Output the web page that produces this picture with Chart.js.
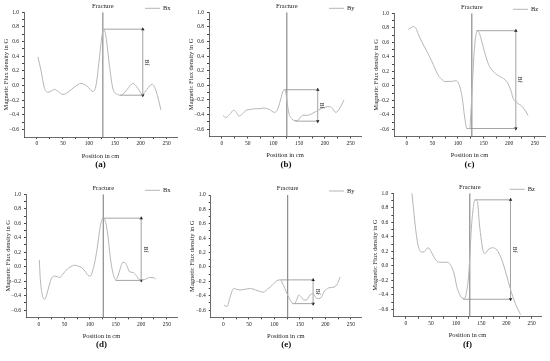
<!DOCTYPE html>
<html>
<head>
<meta charset="utf-8">
<script src="https://cdn.jsdelivr.net/npm/chart.js@4"></script>
<style>
  body { margin: 0; background: #fff; width: 550px; height: 361px; position: relative; overflow: hidden; }
  canvas { position: absolute; }
  .cap { position: absolute; font: bold 9px "Liberation Serif", serif; color: #111; transform: translate(-50%, -50%); }
</style>
</head>
<body>
<script>
// tick values and labels (shared by every panel)
var xTickVals = [0, 25, 50, 75, 100, 125, 150, 175, 200, 225, 250];
var xTickLabels = ['0', '', '50', '', '100', '', '150', '', '200', '', '250'];
var yTickVals = [-0.6, -0.5, -0.4, -0.3, -0.2, -0.1, 0, 0.1, 0.2, 0.3, 0.4, 0.5, 0.6, 0.7, 0.8, 0.9, 1.0];
var yTickLabels = ['\u22120.6', '', '\u22120.4', '', '\u22120.2', '', '0.0', '', '0.2', '', '0.4', '', '0.6', '', '0.8', '', '1.0'];

// (a) Bx
var posA = [2, 8, 14, 21, 28, 34, 41, 50, 60, 72, 85, 97, 108, 114, 120, 126, 129, 133, 140, 146, 153, 162, 174, 185, 195, 203, 212, 222, 230, 239];
var valA = [0.39, 0.2, -0.02, -0.09, -0.07, -0.05, -0.08, -0.12, -0.09, -0.02, 0.03, -0.01, -0.08, 0.01, 0.35, 0.71, 0.77, 0.67, 0.26, -0.03, -0.11, -0.13, -0.05, 0.03, -0.04, -0.12, -0.05, 0.02, -0.08, -0.33];
// (b) By
var posB = [2, 8, 15, 23, 28, 33, 40, 47, 55, 63, 72, 82, 92, 102, 108, 113, 118, 121, 124, 127, 130, 136, 140, 147, 152, 157, 166, 174, 182, 195, 208, 215, 221, 229, 237];
var valB = [-0.41, -0.44, -0.4, -0.34, -0.37, -0.42, -0.39, -0.34, -0.33, -0.32, -0.32, -0.31, -0.33, -0.37, -0.33, -0.22, -0.09, -0.06, -0.1, -0.25, -0.38, -0.46, -0.48, -0.48, -0.44, -0.41, -0.41, -0.39, -0.36, -0.31, -0.29, -0.32, -0.37, -0.31, -0.2];
// (c) Bz
var posC = [3, 8, 13, 18, 22, 29, 38, 48, 55, 61, 68, 74, 87, 95, 99, 103, 106, 109, 112, 115, 117, 120, 123, 125, 128, 131, 134, 138, 142, 147, 151, 156, 160, 166, 173, 181, 189, 195, 199, 204, 208, 213, 218, 223, 228, 233, 237];
var valC = [0.78, 0.8, 0.82, 0.79, 0.72, 0.61, 0.49, 0.35, 0.24, 0.15, 0.09, 0.06, 0.06, 0.07, 0.06, 0.0, -0.08, -0.2, -0.38, -0.52, -0.59, -0.59, -0.59, -0.4, 0.0, 0.4, 0.65, 0.76, 0.72, 0.6, 0.49, 0.37, 0.29, 0.22, 0.17, 0.13, 0.1, 0.06, 0.01, -0.08, -0.18, -0.22, -0.25, -0.27, -0.31, -0.36, -0.41];
// (d) Bx
var posD = [1, 3, 6, 9, 12, 15, 18, 22, 25, 31, 36, 41, 46, 51, 56, 60, 65, 70, 76, 83, 90, 96, 101, 105, 109, 114, 119, 122, 125, 128, 131, 135, 138, 141, 145, 150, 154, 159, 164, 169, 173, 177, 184, 190, 197, 206, 212, 216, 223, 228];
var valD = [0.09, -0.18, -0.36, -0.44, -0.45, -0.4, -0.32, -0.22, -0.16, -0.13, -0.14, -0.15, -0.11, -0.07, -0.03, -0.01, 0.01, 0.02, 0.01, -0.01, -0.06, -0.12, -0.13, -0.06, 0.05, 0.25, 0.51, 0.62, 0.67, 0.66, 0.6, 0.43, 0.23, 0.06, -0.09, -0.18, -0.14, -0.03, 0.06, 0.05, 0.0, -0.07, -0.08, -0.12, -0.18, -0.18, -0.16, -0.15, -0.15, -0.17];
// (e) By
var posE = [1, 7, 13, 20, 25, 33, 43, 53, 63, 71, 79, 86, 92, 99, 105, 112, 118, 123, 128, 133, 138, 141, 145, 148, 153, 158, 163, 167, 170, 176, 180, 184, 191, 197, 207, 217, 224, 229];
var valE = [-0.53, -0.55, -0.42, -0.3, -0.31, -0.32, -0.31, -0.3, -0.32, -0.34, -0.35, -0.31, -0.28, -0.23, -0.19, -0.18, -0.26, -0.34, -0.42, -0.48, -0.51, -0.5, -0.43, -0.39, -0.42, -0.46, -0.46, -0.42, -0.39, -0.37, -0.41, -0.44, -0.43, -0.35, -0.29, -0.28, -0.23, -0.14];
// (f) Bz
var posF = [12, 15, 18, 21, 24, 28, 31, 37, 44, 50, 55, 60, 65, 69, 76, 82, 87, 92, 97, 101, 106, 111, 116, 120, 124, 127, 130, 134, 137, 142, 146, 150, 153, 157, 163, 172, 181, 186, 191, 196, 201, 210, 220, 228];
var valF = [1.0, 0.8, 0.59, 0.42, 0.29, 0.21, 0.19, 0.2, 0.25, 0.2, 0.13, 0.08, 0.05, 0.05, 0.05, 0.05, 0.03, -0.03, -0.14, -0.28, -0.38, -0.44, -0.45, -0.38, -0.19, 0.1, 0.5, 0.8, 0.91, 0.89, 0.59, 0.35, 0.22, 0.17, 0.22, 0.25, 0.22, 0.16, 0.08, -0.03, -0.15, -0.37, -0.56, -0.67];

var positions = [posA, posB, posC, posD, posE, posF];
var values = [valA, valB, valC, valD, valE, valF];
var seriesNames = ['Bx', 'By', 'Bz', 'Bx', 'By', 'Bz'];
var captions = ['(a)', '(b)', '(c)', '(d)', '(e)', '(f)'];

// fracture position and Bf annotation (peak, low, arrow position)
var fractureX = [127, 126, 127, 126, 126, 127];
var peakX = [129, 121, 136, 125, 112, 137];
var peakY = [0.77, -0.06, 0.76, 0.67, -0.18, 0.91];
var lowX = [160, 142, 117, 150, 135, 114];
var lowY = [-0.13, -0.49, -0.59, -0.19, -0.51, -0.46];
var arrowX = [204, 186, 213, 200, 176, 208];

// canvas boxes and plot areas in px (left, top, right, bottom inside the canvas)
var boxes = [
  { left: 0,   top: 0,   w: 182, h: 180, area: [24, 12.3, 177, 137] },
  { left: 182, top: 0,   w: 183, h: 180, area: [27, 12.3, 181, 136.5] },
  { left: 365, top: 0,   w: 185, h: 180, area: [29, 13.3, 180, 136.5] },
  { left: 0,   top: 180, w: 182, h: 181, area: [26, 14.3, 177, 137.3] },
  { left: 182, top: 180, w: 183, h: 181, area: [28.7, 15, 179.7, 137.3] },
  { left: 365, top: 180, w: 185, h: 181, area: [28.3, 13.3, 176.7, 136.7] }
];

var serif = '"Liberation Serif", "DejaVu Serif", serif';
var textColor = '#222';
var axisColor = '#444';

var panelText = {
  id: 'panelText',
  afterDraw: function(chart, args, opts) {
    var ctx = chart.ctx, xs = chart.scales.x, ys = chart.scales.y, a = chart.chartArea;
    ctx.save();
    ctx.fillStyle = textColor;
    ctx.font = '6.5px ' + serif;
    ctx.textBaseline = 'middle';
    ctx.textAlign = 'center';
    ctx.fillText('Fracture', xs.getPixelForValue(opts.fx), a.top - 6.3);

    // legend
    ctx.strokeStyle = '#b5b5b5';
    ctx.lineWidth = 1;
    ctx.beginPath();
    ctx.moveTo(a.right - 32, a.top - 4);
    ctx.lineTo(a.right - 17, a.top - 4);
    ctx.stroke();
    ctx.textAlign = 'left';
    ctx.fillText(opts.name, a.right - 14, a.top - 4);

    // Bf label beside the arrow
    var mx = xs.getPixelForValue(opts.ax) + 4;
    var my = ys.getPixelForValue((opts.py + opts.ly) / 2);
    ctx.translate(mx, my);
    ctx.rotate(Math.PI / 2);
    ctx.textAlign = 'center';
    ctx.font = '6px ' + serif;
    ctx.fillText('Bf', 0, 0);
    ctx.restore();
  }
};

function makePanel(i) {
  var b = boxes[i], ar = b.area;
  var canvas = document.createElement('canvas');
  canvas.width = b.w;
  canvas.height = b.h;
  canvas.style.left = b.left + 'px';
  canvas.style.top = b.top + 'px';
  document.body.appendChild(canvas);

  var cap = document.createElement('div');
  cap.className = 'cap';
  cap.textContent = captions[i];
  cap.style.left = (b.left + (ar[0] + ar[2]) / 2) + 'px';
  cap.style.top = (b.top + ar[3] + 27) + 'px';
  document.body.appendChild(cap);

  var curve = positions[i].map(function(x, k) { return { x: x, y: values[i][k] }; });

  new Chart(canvas, {
    type: 'line',
    data: {
      datasets: [
        {
          data: curve,
          borderColor: '#b5b5b5',
          borderWidth: 1,
          pointRadius: 0,
          cubicInterpolationMode: 'monotone'
        },
        {
          data: [{ x: fractureX[i], y: -0.7 }, { x: fractureX[i], y: 1.0 }],
          borderColor: '#8c8c8c',
          borderWidth: 1.2,
          pointRadius: 0
        },
        {
          data: [{ x: peakX[i], y: peakY[i] }, { x: arrowX[i], y: peakY[i] }],
          borderColor: '#8c8c8c',
          borderWidth: 0.8,
          pointRadius: 0
        },
        {
          data: [{ x: lowX[i], y: lowY[i] }, { x: arrowX[i], y: lowY[i] }],
          borderColor: '#8c8c8c',
          borderWidth: 0.8,
          pointRadius: 0
        },
        {
          data: [{ x: arrowX[i], y: lowY[i] }, { x: arrowX[i], y: peakY[i] }],
          borderColor: '#8c8c8c',
          borderWidth: 0.8,
          pointStyle: 'triangle',
          pointRadius: 2,
          rotation: [180, 0],
          pointBackgroundColor: '#111',
          pointBorderColor: '#111',
          pointBorderWidth: 0
        }
      ]
    },
    options: {
      responsive: false,
      animation: false,
      devicePixelRatio: 1,
      layout: { padding: { left: 0, top: ar[1], right: b.w - ar[2], bottom: 0 } },
      plugins: {
        legend: { display: false },
        tooltip: { enabled: false },
        panelText: { fx: fractureX[i], name: seriesNames[i], ax: arrowX[i], py: peakY[i], ly: lowY[i] }
      },
      scales: {
        x: {
          type: 'linear',
          min: -25,
          max: 270,
          afterBuildTicks: function(s) { s.ticks = xTickVals.map(function(v) { return { value: v }; }); },
          afterFit: function(s) { s.height = b.h - ar[3]; },
          ticks: {
            autoSkip: false,
            maxRotation: 0,
            padding: 1.7,
            color: textColor,
            font: { family: serif, size: 5.5 },
            callback: function(v, k) { return xTickLabels[k]; }
          },
          grid: { drawOnChartArea: false, tickLength: 2, color: axisColor },
          border: { color: axisColor, width: 0.8 },
          title: {
            display: true,
            text: 'Position in cm',
            color: textColor,
            font: { family: serif, size: 6.5 },
            padding: { top: 0, bottom: b.h - ar[3] - 19 - 3.9 }
          }
        },
        y: {
          min: -0.7,
          max: 1.0,
          afterBuildTicks: function(s) { s.ticks = yTickVals.map(function(v) { return { value: v }; }); },
          afterFit: function(s) { s.width = ar[0]; },
          ticks: {
            autoSkip: false,
            padding: 3,
            color: textColor,
            font: { family: serif, size: 5.5 },
            callback: function(v, k) { return yTickLabels[k]; }
          },
          grid: { drawOnChartArea: false, tickLength: 2, color: axisColor },
          border: { color: axisColor, width: 0.8 },
          title: {
            display: true,
            text: 'Magnetic Flux density in G',
            color: textColor,
            font: { family: serif, size: 6.5 },
            padding: { top: ar[0] - 18 - 3.9, bottom: 0 }
          }
        }
      }
    },
    plugins: [panelText]
  });
}

for (var i = 0; i < 6; i++) makePanel(i);
</script>
</body>
</html>
